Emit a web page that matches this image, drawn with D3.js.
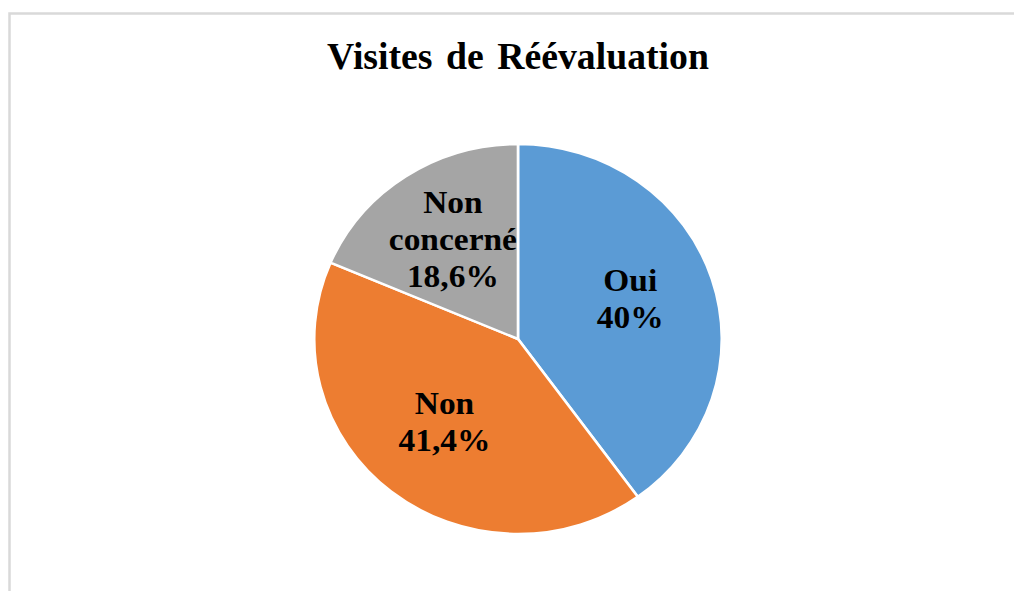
<!DOCTYPE html>
<html>
<head>
<meta charset="utf-8">
<script src="https://cdn.jsdelivr.net/npm/d3@7"></script>
<style>
    html, body { margin: 0; padding: 0; background: #fff; }
    text { font-family: "Liberation Serif", "Times New Roman", serif; font-weight: bold; fill: #000; }
</style>
</head>
<body>
<div id="chart"></div>
<script>
// Chart data
const categories = ["Oui", "Non", "Non concerné"];
const values = [40, 41.4, 18.6];
const valueLabels = ["40%", "41,4%", "18,6%"];
const labelLines = [["Oui"], ["Non"], ["Non", "concerné"]];
const colors = ["#5B9BD5", "#ED7D31", "#A5A5A5"];

const CONFIG = {
    width: 1014,
    height: 591,
    cx: 518,
    cy: 339,
    radius: 195,
    stretchX: 1.045,   // the source picture is slightly wider than tall
    labelRadius: 113,
    lineHeight: 37
};

const svg = d3.select('#chart')
    .append('svg')
    .attr('width', CONFIG.width)
    .attr('height', CONFIG.height);

// Chart area frame
svg.append('rect')
    .attr('x', 9.5)
    .attr('y', 13.5)
    .attr('width', CONFIG.width + 20)
    .attr('height', CONFIG.height + 20)
    .attr('fill', 'none')
    .attr('stroke', '#d9d9d9')
    .attr('stroke-width', 2.5);

// Title
svg.append('text')
    .attr('x', CONFIG.cx)
    .attr('y', 69)
    .attr('text-anchor', 'middle')
    .style('font-size', '37px')
    .style('word-spacing', '4px')
    .attr('transform', `translate(${CONFIG.cx},0) scale(1.02,1.05) translate(${-CONFIG.cx},-3)`)
    .text('Visites de Réévaluation');

const data = categories.map((c, i) => ({
    name: c,
    value: values[i],
    label: valueLabels[i],
    lines: labelLines[i],
    color: colors[i]
}));

const pie = d3.pie()
    .sort(null)
    .value(d => d.value);

const arc = d3.arc()
    .innerRadius(0)
    .outerRadius(CONFIG.radius);

const labelArc = d3.arc()
    .innerRadius(CONFIG.labelRadius)
    .outerRadius(CONFIG.labelRadius);

const arcs = pie(data);

const g = svg.append('g')
    .attr('transform', `translate(${CONFIG.cx},${CONFIG.cy}) scale(${CONFIG.stretchX},1)`);

g.selectAll('path.slice')
    .data(arcs)
    .enter().append('path')
    .attr('class', 'slice')
    .attr('d', arc)
    .attr('fill', d => d.data.color)
    .attr('stroke', '#fff')
    .attr('stroke-width', 2.5)
    .attr('stroke-linejoin', 'round');

// Labels, placed on the label arc centroid inside the same stretched group
g.selectAll('text.label')
    .data(arcs)
    .enter().append('text')
    .attr('class', 'label')
    .attr('text-anchor', 'middle')
    .style('font-size', '32px')
    .each(function (d) {
        const [x, y] = labelArc.centroid(d);
        const lines = d.data.lines.concat([d.data.label]);
        const top = y - (lines.length - 1) * CONFIG.lineHeight / 2 + 5;
        const t = d3.select(this);
        lines.forEach((line, i) => {
            t.append('tspan')
                .attr('x', x)
                .attr('y', top + i * CONFIG.lineHeight)
                .text(line);
        });
    });
</script>
</body>
</html>
